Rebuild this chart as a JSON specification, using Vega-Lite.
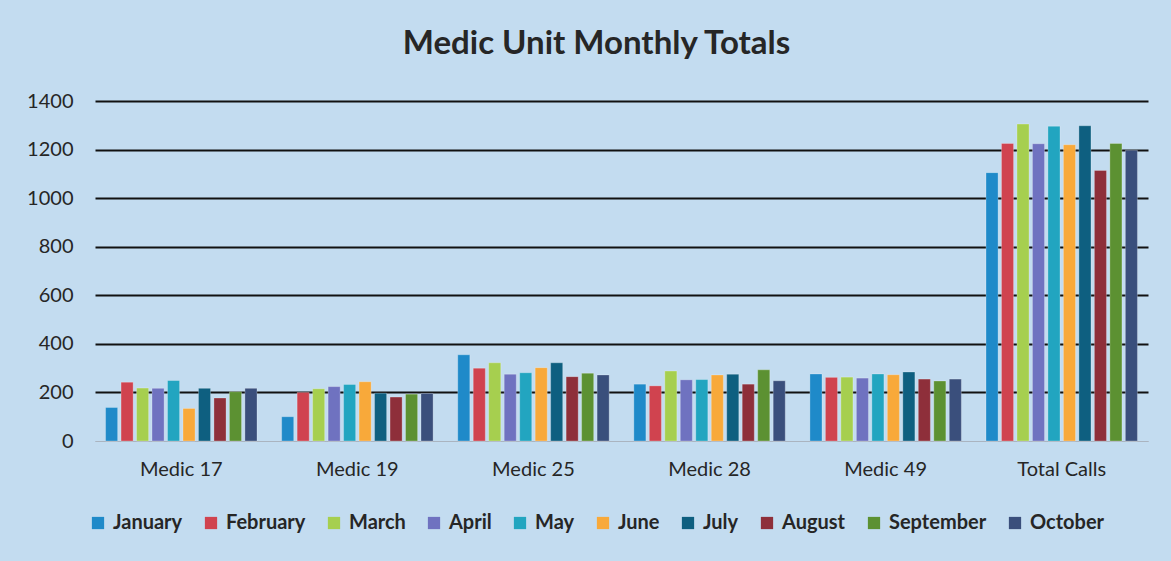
{
  "$schema": "https://vega.github.io/schema/vega-lite/v6.json",
  "width": 1053,
  "height": 340,
  "autosize": {"type": "none"},
  "padding": {"left": 95, "top": 101, "right": 23, "bottom": 120},
  "background": "#c3dcf0",
  "title": {
    "text": "Medic Unit Monthly Totals",
    "font": "Lato",
    "fontSize": 33,
    "fontWeight": "bold",
    "color": "#262626",
    "anchor": "middle",
    "offset": 30,
    "dx": -25
  },
  "data": {
    "values": [
      {"unit": "Medic 17", "month": "January", "calls": 138},
      {"unit": "Medic 17", "month": "February", "calls": 242},
      {"unit": "Medic 17", "month": "March", "calls": 218},
      {"unit": "Medic 17", "month": "April", "calls": 217},
      {"unit": "Medic 17", "month": "May", "calls": 249},
      {"unit": "Medic 17", "month": "June", "calls": 134},
      {"unit": "Medic 17", "month": "July", "calls": 217},
      {"unit": "Medic 17", "month": "August", "calls": 177},
      {"unit": "Medic 17", "month": "September", "calls": 203},
      {"unit": "Medic 17", "month": "October", "calls": 217},
      {"unit": "Medic 19", "month": "January", "calls": 100},
      {"unit": "Medic 19", "month": "February", "calls": 200},
      {"unit": "Medic 19", "month": "March", "calls": 215},
      {"unit": "Medic 19", "month": "April", "calls": 224},
      {"unit": "Medic 19", "month": "May", "calls": 233},
      {"unit": "Medic 19", "month": "June", "calls": 244},
      {"unit": "Medic 19", "month": "July", "calls": 197},
      {"unit": "Medic 19", "month": "August", "calls": 181},
      {"unit": "Medic 19", "month": "September", "calls": 193},
      {"unit": "Medic 19", "month": "October", "calls": 196},
      {"unit": "Medic 25", "month": "January", "calls": 355},
      {"unit": "Medic 25", "month": "February", "calls": 300},
      {"unit": "Medic 25", "month": "March", "calls": 322},
      {"unit": "Medic 25", "month": "April", "calls": 275},
      {"unit": "Medic 25", "month": "May", "calls": 281},
      {"unit": "Medic 25", "month": "June", "calls": 302},
      {"unit": "Medic 25", "month": "July", "calls": 322},
      {"unit": "Medic 25", "month": "August", "calls": 265},
      {"unit": "Medic 25", "month": "September", "calls": 279},
      {"unit": "Medic 25", "month": "October", "calls": 272},
      {"unit": "Medic 28", "month": "January", "calls": 234},
      {"unit": "Medic 28", "month": "February", "calls": 227},
      {"unit": "Medic 28", "month": "March", "calls": 288},
      {"unit": "Medic 28", "month": "April", "calls": 252},
      {"unit": "Medic 28", "month": "May", "calls": 253},
      {"unit": "Medic 28", "month": "June", "calls": 272},
      {"unit": "Medic 28", "month": "July", "calls": 275},
      {"unit": "Medic 28", "month": "August", "calls": 234},
      {"unit": "Medic 28", "month": "September", "calls": 293},
      {"unit": "Medic 28", "month": "October", "calls": 248},
      {"unit": "Medic 49", "month": "January", "calls": 276},
      {"unit": "Medic 49", "month": "February", "calls": 262},
      {"unit": "Medic 49", "month": "March", "calls": 263},
      {"unit": "Medic 49", "month": "April", "calls": 259},
      {"unit": "Medic 49", "month": "May", "calls": 276},
      {"unit": "Medic 49", "month": "June", "calls": 273},
      {"unit": "Medic 49", "month": "July", "calls": 284},
      {"unit": "Medic 49", "month": "August", "calls": 255},
      {"unit": "Medic 49", "month": "September", "calls": 247},
      {"unit": "Medic 49", "month": "October", "calls": 255},
      {"unit": "Total Calls", "month": "January", "calls": 1105},
      {"unit": "Total Calls", "month": "February", "calls": 1225},
      {"unit": "Total Calls", "month": "March", "calls": 1305},
      {"unit": "Total Calls", "month": "April", "calls": 1224},
      {"unit": "Total Calls", "month": "May", "calls": 1296},
      {"unit": "Total Calls", "month": "June", "calls": 1220},
      {"unit": "Total Calls", "month": "July", "calls": 1298},
      {"unit": "Total Calls", "month": "August", "calls": 1114},
      {"unit": "Total Calls", "month": "September", "calls": 1225},
      {"unit": "Total Calls", "month": "October", "calls": 1197}
    ]
  },
  "mark": {"type": "bar", "stroke": "#ffffff", "strokeOpacity": 0.5, "strokeWidth": 0.5},
  "encoding": {
    "x": {
      "field": "unit",
      "type": "nominal",
      "sort": null,
      "scale": {"paddingInner": 0.14, "paddingOuter": 0.06},
      "axis": {
        "title": null,
        "labelAngle": 0,
        "labelFont": "Lato",
        "labelFontSize": 20,
        "labelColor": "#262626",
        "labelPadding": 18,
        "ticks": false,
        "domain": true,
        "domainColor": "#aab4c0",
        "domainWidth": 1
      }
    },
    "xOffset": {
      "field": "month",
      "type": "nominal",
      "sort": ["January", "February", "March", "April", "May", "June", "July", "August", "September", "October"],
      "scale": {"paddingInner": 0.22}
    },
    "y": {
      "field": "calls",
      "type": "quantitative",
      "scale": {"domain": [0, 1400]},
      "axis": {
        "title": null,
        "format": "d",
        "values": [0, 200, 400, 600, 800, 1000, 1200, 1400],
        "labelFont": "Lato",
        "labelFontSize": 20,
        "labelColor": "#262626",
        "labelPadding": 22,
        "ticks": false,
        "domain": false,
        "grid": true,
        "gridColor": {"condition": {"test": "datum.value === 0", "value": "#aab4c0"}, "value": "#111111"},
        "gridWidth": {"condition": {"test": "datum.value === 0", "value": 1}, "value": 2.2}
      }
    },
    "color": {
      "field": "month",
      "type": "nominal",
      "sort": ["January", "February", "March", "April", "May", "June", "July", "August", "September", "October"],
      "scale": {
        "domain": ["January", "February", "March", "April", "May", "June", "July", "August", "September", "October"],
        "range": ["#1f8ac9", "#d0434f", "#a6cf4f", "#6f72c0", "#22a5c0", "#f8a93a", "#0e5f80", "#8e2f3a", "#5c9132", "#3a4f7c"]
      },
      "legend": {
        "title": null,
        "orient": "none",
        "direction": "horizontal",
        "columns": 10,
        "legendX": -7,
        "legendY": 412,
        "symbolType": "square",
        "symbolSize": 150,
        "symbolStrokeWidth": 0,
        "labelFont": "Lato",
        "labelFontSize": 20,
        "labelFontWeight": "bold",
        "labelColor": "#262626",
        "labelOffset": 5,
        "columnPadding": 18,
        "labelLimit": 200
      }
    }
  },
  "config": {
    "view": {"stroke": null},
    "axis": {"gridOpacity": 1}
  }
}
